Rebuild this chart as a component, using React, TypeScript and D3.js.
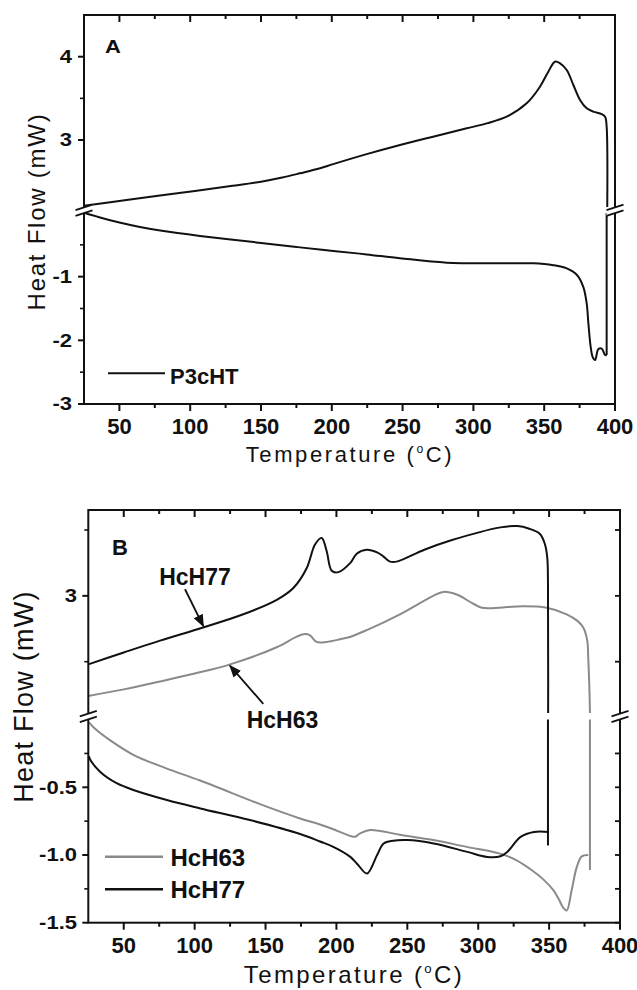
import React from 'react';
import * as d3 from 'd3';

const FONT = '"Liberation Sans", Arial, Helvetica, sans-serif';

// ---------- shared axis values ----------
const tempTicks = [50, 100, 150, 200, 250, 300, 350, 400];
const tempMinorTicks = [75, 125, 175, 225, 275, 325, 375];

// ---------- Panel A ----------
const aUpperTicks = [4, 3];
const aUpperMinor = [3.5];
const aLowerTicks = [-1, -2, -3];
const aLowerMinor = [-0.5, -1.5, -2.5];

const p3chtHeating: [number, number][] = [
  [25, 2.21], [55, 2.28], [95, 2.37], [130, 2.45], [150, 2.5], [165, 2.55], [177.5, 2.6], [191.7, 2.66],
  [201, 2.71], [224.6, 2.83], [248.2, 2.94], [271.5, 3.04], [295.3, 3.14], [309.4, 3.2],
  [323.5, 3.28], [337.6, 3.44], [347, 3.64], [352.9, 3.82], [357.6, 3.94], [361.2, 3.92],
  [365.9, 3.84], [370.6, 3.66], [375.3, 3.48], [380, 3.38], [384.7, 3.34], [390.6, 3.31],
  [393, 3.28], [394.1, 3.16], [394.1, 1.5],
];
const p3chtDrop: [number, number][] = [[394.1, 0.5], [394.1, -2.23]];
const p3chtCooling: [number, number][] = [
  [394.1, -2.23], [393, -2.23], [390.6, -2.13], [388.2, -2.14], [385.9, -2.31],
  [384.2, -2.26], [382.8, -2.1], [381.2, -1.73], [380, -1.42], [377.6, -1.16], [373, -0.97],
  [365.9, -0.87], [356.4, -0.82], [342.3, -0.79], [318.8, -0.79], [281.1, -0.78], [248.2, -0.71],
  [224.6, -0.65], [201, -0.595], [177.5, -0.54], [150, -0.47], [106.9, -0.36],
  [80, -0.28], [64.5, -0.22], [50, -0.15], [36.3, -0.07], [25.7, 0.0],
];

// ---------- Panel B ----------
const bUpperTicks = [3];
const bUpperMinor = [3.5, 2.5];
const bLowerTicks = [-0.5, -1.0, -1.5];
const bLowerMinor = [-0.25, -0.75, -1.25];

const hcH77Heating: [number, number][] = [
  [25, 2.48], [50, 2.57], [75.6, 2.66], [106, 2.76], [134.3, 2.86], [157.9, 2.97], [169.6, 3.06],
  [179, 3.21], [184.9, 3.39], [189.6, 3.44], [193.1, 3.34], [196.7, 3.19], [201.4, 3.18],
  [209.8, 3.25], [214.3, 3.32], [221.4, 3.35], [228.7, 3.33], [233, 3.3], [237.8, 3.26],
  [242.5, 3.26], [262, 3.35], [280.4, 3.42], [315.7, 3.52], [327.5, 3.53], [336, 3.51],
  [343.6, 3.47], [347.1, 3.39], [348.7, 3.29], [349.2, 3.1], [349.2, 1.5],
];
const hcH77Drop: [number, number][] = [[349.2, 0.3], [349.2, -0.93]];
const hcH77Cooling: [number, number][] = [
  [349.6, -0.83], [339.3, -0.83], [329.9, -0.866], [320.5, -0.977], [315.7, -1.009], [306.4, -1.014],
  [292.2, -0.977], [268.6, -0.915], [249.9, -0.89], [240, -0.895], [233.3, -0.915], [228.7, -1.0],
  [221.6, -1.137], [215, -1.07], [209.8, -1.014], [197.8, -0.94], [188.4, -0.9], [174.4, -0.845],
  [139, -0.742], [104, -0.656], [80.4, -0.594], [56.8, -0.52], [45, -0.47], [33.3, -0.385],
  [26.2, -0.293], [25.5, -0.27],
];

const hcH63Heating: [number, number][] = [
  [25, 2.24], [50, 2.29], [75.6, 2.35], [100, 2.41], [125, 2.48], [157.9, 2.61], [172, 2.69],
  [177.8, 2.71], [181.4, 2.7], [186, 2.65], [193, 2.65], [202.5, 2.67], [210, 2.69], [221.4, 2.74],
  [244.8, 2.86], [268.3, 3.0], [275.4, 3.03], [284.8, 3.01], [296.5, 2.94], [302.5, 2.91],
  [315, 2.91], [327.1, 2.92], [348.3, 2.91], [362.4, 2.86], [370, 2.81], [374.1, 2.76],
  [376.9, 2.66], [377.6, 2.53], [378.8, 2.12], [378.8, 1.5],
];
const hcH63Drop: [number, number][] = [[378.8, 0.3], [378.8, -1.11]];
const hcH63Cooling: [number, number][] = [
  [377.6, -1.0], [373, -1.01], [369.5, -1.09], [365.9, -1.26], [362.4, -1.41], [360, -1.39],
  [356.5, -1.32], [353, -1.26], [345.9, -1.18], [338.8, -1.12], [327.1, -1.04], [315.4, -0.99],
  [291.9, -0.94], [268.3, -0.89], [244.8, -0.85], [223.7, -0.815], [216.6, -0.84], [213.1, -0.865],
  [205, -0.84], [197.8, -0.81], [188.4, -0.775], [174.3, -0.73], [150.8, -0.643], [103.8, -0.45],
  [80, -0.36], [56.7, -0.26], [40, -0.15], [30, -0.07], [25.5, -0.02],
];

// annotation labels in data coordinates: [label, T, V, arrowFromT, arrowFromV, arrowToT, arrowToV]
const bAnnotations: [string, number, number, number, number, number, number][] = [
  ['HcH77', 75, 3.08, 93.2, 3.05, 106.1, 2.77],
  ['HcH63', 136.7, 2.0, 148.4, 2.18, 124.9, 2.47],
];

const BLACK = '#111';
const GRAY = '#8a8a8a';

type Pt = [number, number];

function BreakMark({ cx, cy }: { cx: number; cy: number }) {
  const hw = 8.5, rise = 5.5, sep = 5.7;
  const up = (x: number) => cy - sep / 2 + rise / 2 - ((x - (cx - hw)) / (2 * hw)) * rise;
  const lo = (x: number) => up(x) + sep;
  const x0 = cx - hw, x1 = cx + hw;
  return (
    <g>
      <polygon points={`${x0},${up(x0)} ${x1},${up(x1)} ${x1},${lo(x1)} ${x0},${lo(x0)}`} fill="#fff" />
      <line x1={x0} y1={up(x0)} x2={x1} y2={up(x1)} stroke={BLACK} strokeWidth={1.8} />
      <line x1={x0} y1={lo(x0)} x2={x1} y2={lo(x1)} stroke={BLACK} strokeWidth={1.8} />
    </g>
  );
}

function YLabel({ x, y, text }: { x: number; y: number; text: string }) {
  return (
    <text
      transform={`translate(${x},${y + 6.3}) scale(1,0.8)`}
      textAnchor="end"
      fontFamily={FONT}
      fontWeight="bold"
      fontSize={22}
      fill={BLACK}
    >
      {text}
    </text>
  );
}

function TempTitle({ cx, y, size, ls }: { cx: number; y: number; size: number; ls: number }) {
  return (
    <text x={cx} y={y} textAnchor="middle" fontFamily={FONT} fontSize={size} letterSpacing={ls} fill={BLACK}>
      Temperature (
      <tspan fontSize={size * 0.55} dy={-size * 0.42}>o</tspan>
      <tspan dy={size * 0.42}>C)</tspan>
    </text>
  );
}

function HeatTitle({ x, cy, size, ls }: { x: number; cy: number; size: number; ls: number }) {
  return (
    <text
      transform={`translate(${x},${cy}) rotate(-90)`}
      textAnchor="middle"
      fontFamily={FONT}
      fontSize={size}
      letterSpacing={ls}
      fill={BLACK}
    >
      Heat Flow (mW)
    </text>
  );
}

export default function App() {
  // ---------- Panel A geometry ----------
  const A = { left: 84, right: 615, top: 15, bottom: 404, upBottom: 207, loTop: 213, breakY: 210.3 };
  const xA = d3.scaleLinear().domain([25, 400]).range([A.left, A.right]);
  const yAu = d3.scaleLinear().domain([3, 4]).range([140, 56.7]);
  const yAl = d3.scaleLinear().domain([-3, 0]).range([A.bottom, A.loTop]);

  // ---------- Panel B geometry ----------
  const B = { left: 88.3, right: 620, top: 510, bottom: 922.7, upBottom: 713, loTop: 719.6, breakY: 716.5 };
  const xB = d3.scaleLinear().domain([25, 400]).range([B.left, B.right]);
  const yBu = d3.scaleLinear().domain([2.5, 3.5]).range([661.7, 530]);
  const yBl = d3.scaleLinear().domain([-1.5, 0]).range([B.bottom, B.loTop]);

  const mkLine = (x: d3.ScaleLinear<number, number>, y: d3.ScaleLinear<number, number>) =>
    d3
      .line<Pt>()
      .x((d) => x(d[0]))
      .y((d) => y(d[1]))
      .curve(d3.curveCatmullRom.alpha(0.5));
  const mkStraight = (x: d3.ScaleLinear<number, number>, y: d3.ScaleLinear<number, number>) =>
    d3
      .line<Pt>()
      .x((d) => x(d[0]))
      .y((d) => y(d[1]));

  const lineAu = mkLine(xA, yAu);
  const lineAl = mkLine(xA, yAl);
  const lineBu = mkLine(xB, yBu);
  const lineBl = mkLine(xB, yBl);
  const straightAl = mkStraight(xA, yAl);
  const straightBl = mkStraight(xB, yBl);

  const tickLabelStyle = { fontFamily: FONT, fontWeight: 'bold' as const, fontSize: 22, fill: BLACK };

  return (
    <svg
      width={637}
      height={990}
      style={{ position: 'absolute', left: 0, top: 0, display: 'block', background: '#fff' }}
    >
      <defs>
        <clipPath id="clipAu">
          <rect x={A.left} y={A.top} width={A.right - A.left} height={A.upBottom - A.top} />
        </clipPath>
        <clipPath id="clipAl">
          <rect x={A.left} y={A.loTop} width={A.right - A.left} height={A.bottom - A.loTop} />
        </clipPath>
        <clipPath id="clipBu">
          <rect x={B.left} y={B.top} width={B.right - B.left} height={B.upBottom - B.top} />
        </clipPath>
        <clipPath id="clipBl">
          <rect x={B.left} y={B.loTop} width={B.right - B.left} height={B.bottom - B.loTop} />
        </clipPath>
        <marker id="arrow" viewBox="0 0 10 10" refX={9} refY={5} markerWidth={7} markerHeight={7} orient="auto">
          <path d="M0,1 L10,5 L0,9 z" fill={BLACK} />
        </marker>
      </defs>

      {/* ================= PANEL A ================= */}
      <g>
        <path d={lineAu(p3chtHeating) || ''} fill="none" stroke={BLACK} strokeWidth={2} clipPath="url(#clipAu)" />
        <path d={straightAl(p3chtDrop) || ''} fill="none" stroke={BLACK} strokeWidth={2} clipPath="url(#clipAl)" />
        <path d={lineAl(p3chtCooling) || ''} fill="none" stroke={BLACK} strokeWidth={2} clipPath="url(#clipAl)" />

        <rect x={A.left} y={A.top} width={A.right - A.left} height={A.bottom - A.top} fill="none" stroke={BLACK} strokeWidth={2} />

        {tempTicks.map((t) => (
          <line key={'abt' + t} x1={xA(t)} x2={xA(t)} y1={A.bottom} y2={A.bottom + 7} stroke={BLACK} strokeWidth={2} />
        ))}
        {tempMinorTicks.map((t) => (
          <line key={'abm' + t} x1={xA(t)} x2={xA(t)} y1={A.bottom} y2={A.bottom + 4} stroke={BLACK} strokeWidth={2} />
        ))}
        {tempTicks.map((t) => (
          <line key={'att' + t} x1={xA(t)} x2={xA(t)} y1={A.top} y2={A.top + 7} stroke={BLACK} strokeWidth={2} />
        ))}
        {tempMinorTicks.map((t) => (
          <line key={'atm' + t} x1={xA(t)} x2={xA(t)} y1={A.top} y2={A.top + 4} stroke={BLACK} strokeWidth={2} />
        ))}
        {aUpperTicks.map((v) => (
          <line key={'aut' + v} x1={A.left - 6} x2={A.left} y1={yAu(v)} y2={yAu(v)} stroke={BLACK} strokeWidth={2} />
        ))}
        {aUpperMinor.map((v) => (
          <line key={'aum' + v} x1={A.left - 4} x2={A.left} y1={yAu(v)} y2={yAu(v)} stroke={BLACK} strokeWidth={1.6} />
        ))}
        {aLowerTicks.map((v) => (
          <line key={'alt' + v} x1={A.left - 6} x2={A.left} y1={yAl(v)} y2={yAl(v)} stroke={BLACK} strokeWidth={2} />
        ))}
        {aLowerMinor.map((v) => (
          <line key={'alm' + v} x1={A.left - 4} x2={A.left} y1={yAl(v)} y2={yAl(v)} stroke={BLACK} strokeWidth={1.6} />
        ))}

        <BreakMark cx={A.left} cy={A.breakY} />
        <BreakMark cx={A.right} cy={A.breakY} />

        {tempTicks.map((t) => (
          <text key={'axl' + t} x={xA(t)} y={434} textAnchor="middle" {...tickLabelStyle}>
            {t}
          </text>
        ))}
        {aUpperTicks.map((v) => (
          <YLabel key={'ayl' + v} x={72} y={yAu(v)} text={String(v)} />
        ))}
        {aLowerTicks.map((v) => (
          <YLabel key={'ayll' + v} x={72} y={yAl(v)} text={String(v)} />
        ))}

        <text transform="translate(105,53) scale(1,0.82)" fontFamily={FONT} fontWeight="bold" fontSize={22} fill={BLACK}>
          A
        </text>

        <line x1={108} x2={165} y1={373.3} y2={373.3} stroke={BLACK} strokeWidth={2} />
        <text x={170} y={383.5} fontFamily={FONT} fontWeight="bold" fontSize={22} fill={BLACK}>
          P3cHT
        </text>

        <TempTitle cx={350} y={462} size={22} ls={2.6} />
        <HeatTitle x={45} cy={211.5} size={24} ls={1.75} />
      </g>

      {/* ================= PANEL B ================= */}
      <g>
        <path d={lineBu(hcH63Heating) || ''} fill="none" stroke={GRAY} strokeWidth={2} clipPath="url(#clipBu)" />
        <path d={straightBl(hcH63Drop) || ''} fill="none" stroke={GRAY} strokeWidth={2} clipPath="url(#clipBl)" />
        <path d={lineBl(hcH63Cooling) || ''} fill="none" stroke={GRAY} strokeWidth={2} clipPath="url(#clipBl)" />
        <path d={lineBu(hcH77Heating) || ''} fill="none" stroke={BLACK} strokeWidth={2} clipPath="url(#clipBu)" />
        <path d={straightBl(hcH77Drop) || ''} fill="none" stroke={BLACK} strokeWidth={2} clipPath="url(#clipBl)" />
        <path d={lineBl(hcH77Cooling) || ''} fill="none" stroke={BLACK} strokeWidth={2} clipPath="url(#clipBl)" />

        <rect x={B.left} y={B.top} width={B.right - B.left} height={B.bottom - B.top} fill="none" stroke={BLACK} strokeWidth={2} />

        {tempTicks.map((t) => (
          <line key={'bbt' + t} x1={xB(t)} x2={xB(t)} y1={B.bottom} y2={B.bottom + 7} stroke={BLACK} strokeWidth={2} />
        ))}
        {tempMinorTicks.map((t) => (
          <line key={'bbm' + t} x1={xB(t)} x2={xB(t)} y1={B.bottom} y2={B.bottom + 4} stroke={BLACK} strokeWidth={2} />
        ))}
        {tempTicks.map((t) => (
          <line key={'btt' + t} x1={xB(t)} x2={xB(t)} y1={B.top} y2={B.top + 7} stroke={BLACK} strokeWidth={2} />
        ))}
        {tempMinorTicks.map((t) => (
          <line key={'btm' + t} x1={xB(t)} x2={xB(t)} y1={B.top} y2={B.top + 4} stroke={BLACK} strokeWidth={2} />
        ))}
        {bUpperTicks.concat(bUpperMinor).map((v, i) => (
          <g key={'bu' + v}>
            <line x1={B.left - (i === 0 ? 6 : 4)} x2={B.left} y1={yBu(v)} y2={yBu(v)} stroke={BLACK} strokeWidth={i === 0 ? 2 : 1.6} />
            <line x1={B.right - 5} x2={B.right} y1={yBu(v)} y2={yBu(v)} stroke={BLACK} strokeWidth={1.8} />
          </g>
        ))}
        {bLowerTicks.map((v) => (
          <g key={'blt' + v}>
            <line x1={B.left - 6} x2={B.left} y1={yBl(v)} y2={yBl(v)} stroke={BLACK} strokeWidth={2} />
            <line x1={B.right - 5} x2={B.right} y1={yBl(v)} y2={yBl(v)} stroke={BLACK} strokeWidth={1.8} />
          </g>
        ))}
        {bLowerMinor.map((v) => (
          <g key={'blm' + v}>
            <line x1={B.left - 4} x2={B.left} y1={yBl(v)} y2={yBl(v)} stroke={BLACK} strokeWidth={1.6} />
            <line x1={B.right - 5} x2={B.right} y1={yBl(v)} y2={yBl(v)} stroke={BLACK} strokeWidth={1.8} />
          </g>
        ))}

        <BreakMark cx={B.left} cy={B.breakY} />
        <BreakMark cx={B.right} cy={B.breakY} />

        {tempTicks.map((t) => (
          <text key={'bxl' + t} x={xB(t)} y={953} textAnchor="middle" {...tickLabelStyle}>
            {t}
          </text>
        ))}
        {bUpperTicks.map((v) => (
          <YLabel key={'byl' + v} x={77} y={yBu(v)} text={String(v)} />
        ))}
        {bLowerTicks.map((v) => (
          <YLabel key={'byll' + v} x={77} y={yBl(v)} text={v.toFixed(1)} />
        ))}

        <text x={112} y={555} fontFamily={FONT} fontWeight="bold" fontSize={22} fill={BLACK}>
          B
        </text>

        {bAnnotations.map(([label, t, v, ft, fv, tt, tv]) => (
          <g key={label}>
            <text x={xB(t)} y={yBu(v)} fontFamily={FONT} fontWeight="bold" fontSize={23} fill={BLACK}>
              {label}
            </text>
            <line
              x1={xB(ft)}
              y1={yBu(fv)}
              x2={xB(tt)}
              y2={yBu(tv)}
              stroke={BLACK}
              strokeWidth={1.8}
              markerEnd="url(#arrow)"
            />
          </g>
        ))}

        <line x1={105} x2={163} y1={856.7} y2={856.7} stroke={GRAY} strokeWidth={2.6} />
        <text x={170.5} y={866} fontFamily={FONT} fontWeight="bold" fontSize={24} fill={BLACK}>
          HcH63
        </text>
        <line x1={105} x2={163} y1={889.3} y2={889.3} stroke={BLACK} strokeWidth={2.6} />
        <text x={170.5} y={898} fontFamily={FONT} fontWeight="bold" fontSize={24} fill={BLACK}>
          HcH77
        </text>

        <TempTitle cx={354} y={983} size={24} ls={2.4} />
        <HeatTitle x={33} cy={696.5} size={27} ls={1.25} />
      </g>
    </svg>
  );
}
